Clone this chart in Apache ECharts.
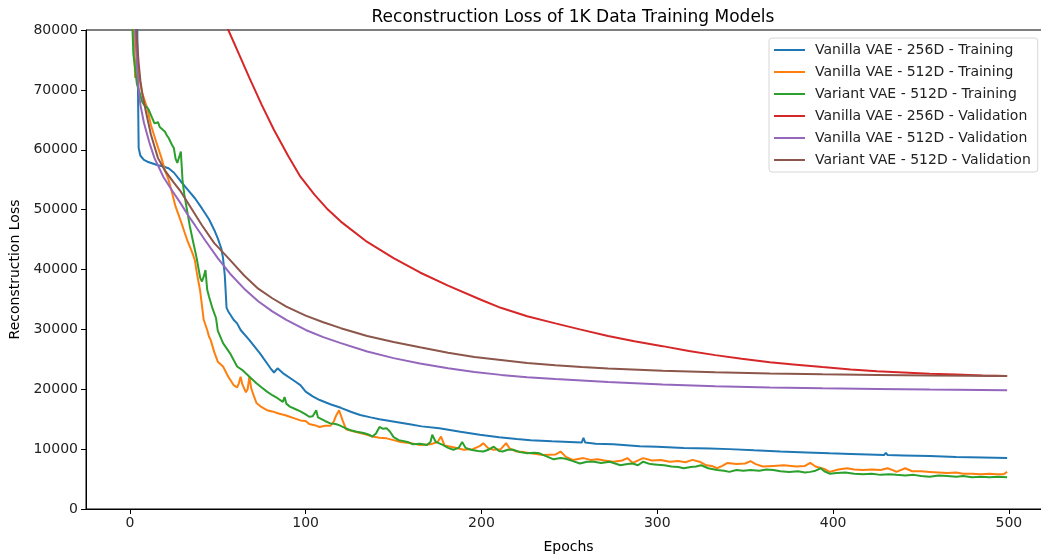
<!DOCTYPE html>
<html>
<head>
<meta charset="utf-8">
<title>Reconstruction Loss</title>
<script src="https://cdn.jsdelivr.net/npm/echarts@6.0.0/dist/echarts.min.js"></script>
<style>
  html, body { margin: 0; padding: 0; background: #fff; }
  #main { width: 1041px; height: 556px; }
</style>
</head>
<body>
<div id="main"></div>
<script>
// values (epoch, loss)
const vanilla256TrainEpochs = [0, 2, 4, 5, 6, 8, 10, 13, 16, 19, 22, 25, 29, 33, 37, 41, 45, 48, 50, 52, 53, 54, 55, 56, 59, 61, 63, 68, 74, 80, 82, 84, 87, 93, 97, 100, 104, 108, 114, 120, 126, 131, 137, 142, 148, 154, 160, 166, 176, 188, 199, 210, 220, 228, 240, 250, 257, 258, 259, 265, 275, 290, 300, 315, 330, 341, 355, 370, 385, 398, 410, 420, 429, 430, 431, 440, 455, 470, 485, 499];
const vanilla256TrainLoss = [110000, 95000, 86000, 60300, 59000, 58300, 58000, 57700, 57400, 57200, 56900, 56200, 54700, 53300, 51900, 50200, 48400, 46600, 45200, 43500, 41900, 39000, 33600, 33000, 31600, 31000, 29900, 28200, 26000, 23500, 22800, 23500, 22700, 21500, 20700, 19600, 18800, 18200, 17500, 16900, 16200, 15700, 15300, 15000, 14700, 14400, 14100, 13800, 13500, 12900, 12400, 12000, 11700, 11500, 11300, 11200, 11100, 11900, 11100, 10900, 10800, 10500, 10400, 10200, 10100, 10000, 9800, 9600, 9450, 9300, 9200, 9100, 9000, 9400, 9000, 8950, 8850, 8700, 8600, 8500];

const vanilla512TrainEpochs = [0, 1, 2, 3, 4, 5, 7, 10, 12, 15, 18, 20, 22, 24, 26, 28, 30, 31, 33, 35, 36, 37, 38, 39, 40, 41, 42, 44, 45, 46, 48, 50, 53, 56, 59, 61, 62, 63, 64, 66, 67, 68, 69, 70, 72, 75, 78, 81, 85, 88, 91, 94, 97, 100, 102, 105, 108, 111, 114, 116, 117, 119, 121, 123, 127, 131, 135, 138, 142, 146, 150, 154, 160, 165, 171, 175, 177, 179, 184, 190, 195, 199, 201, 204, 207, 211, 214, 216, 220, 224, 228, 235, 242, 245, 248, 252, 258, 262, 266, 270, 275, 280, 283, 286, 292, 297, 302, 307, 312, 316, 320, 324, 328, 331, 334, 337, 340, 345, 350, 353, 356, 360, 366, 372, 379, 384, 387, 390, 395, 398, 403, 408, 412, 417, 422, 427, 431, 434, 436, 441, 445, 450, 455, 460, 465, 470, 474, 479, 484, 489, 493, 497, 499];
const vanilla512TrainLoss = [105000, 92000, 82000, 72000, 75500, 72500, 69500, 66800, 64100, 61300, 58600, 56500, 55000, 52800, 50500, 48900, 47200, 46300, 44600, 43200, 42400, 41500, 39600, 38000, 36400, 34000, 31600, 29900, 28800, 28200, 26200, 24600, 23800, 22100, 20700, 20300, 21000, 22100, 20800, 19500, 20000, 22100, 20200, 19300, 17700, 17000, 16500, 16300, 15900, 15700, 15400, 15100, 14800, 14700, 14200, 14000, 13700, 13900, 13900, 14600, 15400, 16500, 14800, 13300, 13000, 12700, 12400, 12100, 11900, 11800, 11500, 11200, 11000, 10700, 10800, 11200, 12100, 10600, 10300, 9900, 10000, 10500, 11000, 10100, 9900, 10000, 11000, 10100, 9600, 9500, 9300, 9000, 9100, 9600, 8700, 8200, 8500, 8200, 8300, 8100, 7900, 8100, 8500, 7700, 8500, 8100, 8200, 7900, 8000, 7800, 8200, 7900, 7300, 7200, 6800, 7200, 7700, 7500, 7600, 8000, 7500, 7100, 7200, 7300, 7100, 7200, 7700, 7100, 6700, 6200, 6600, 6800, 6600, 6500, 6600, 6500, 6800, 6500, 6200, 6800, 6300, 6300, 6200, 6100, 6000, 6100, 5900, 5900, 5800, 5900, 5800, 5800, 6200];

const variant512TrainEpochs = [0, 1, 2, 4, 6, 7, 8, 10, 11, 12, 14, 16, 17, 18, 20, 21, 22, 24, 25, 26, 27, 28, 29, 30, 31, 32, 34, 36, 38, 40, 41, 42, 43, 44, 45, 47, 49, 50, 53, 57, 61, 64, 68, 72, 75, 78, 81, 84, 87, 88, 89, 91, 94, 97, 100, 102, 104, 106, 107, 108, 111, 114, 117, 119, 122, 125, 129, 133, 136, 138, 140, 142, 144, 146, 148, 150, 153, 158, 161, 165, 169, 171, 172, 174, 178, 181, 184, 187, 189, 191, 194, 198, 201, 204, 207, 210, 212, 215, 218, 222, 226, 230, 233, 237, 241, 245, 248, 252, 256, 260, 264, 268, 273, 276, 279, 283, 286, 289, 292, 296, 300, 304, 308, 312, 315, 319, 322, 325, 329, 334, 338, 341, 345, 349, 353, 358, 362, 366, 370, 375, 380, 384, 387, 390, 393, 395, 398, 402, 407, 412, 417, 422, 427, 432, 436, 441, 446, 450, 455, 460, 465, 470, 474, 479, 484, 489, 494, 499];
const variant512TrainLoss = [100000, 84000, 76000, 71000, 69100, 68000, 67500, 67000, 66500, 65800, 64400, 64600, 63800, 63600, 63000, 62400, 62000, 60800, 60300, 58500, 57800, 58000, 59700, 54700, 52500, 50800, 47400, 44600, 41900, 38600, 38000, 38800, 39900, 36600, 35500, 33500, 31900, 29800, 27700, 26000, 23800, 23200, 22100, 21000, 20300, 19600, 19000, 18500, 17900, 18700, 17600, 17100, 16700, 16300, 15800, 15400, 15500, 16500, 15300, 15100, 14700, 14300, 14200, 14000, 13600, 13200, 12900, 12700, 12400, 12100, 12600, 13700, 13400, 13500, 12900, 12000, 11500, 11200, 10800, 10900, 10700, 11200, 12400, 11200, 10700, 10200, 9900, 10200, 11200, 10200, 9900, 9700, 9600, 9900, 10400, 9700, 9600, 9900, 9900, 9500, 9300, 9400, 9300, 8800, 8300, 8500, 8400, 8000, 7600, 7900, 7900, 7700, 7900, 7600, 7300, 7500, 7600, 7300, 7900, 7500, 7400, 7300, 7100, 7000, 6800, 7000, 7100, 7300, 6800, 6500, 6400, 6200, 6500, 6400, 6500, 6400, 6600, 6500, 6300, 6200, 6300, 6100, 6200, 6400, 6800, 6300, 5900, 6000, 6100, 5900, 5800, 5900, 5700, 5800, 5700, 5600, 5700, 5500, 5400, 5600, 5500, 5400, 5500, 5300, 5400, 5300, 5400, 5300];

const vanilla256ValEpochs = [0, 10, 20, 30, 40, 50, 56, 62, 68, 75, 82, 90, 97, 105, 112, 120, 135, 150, 165, 181, 200, 211, 226, 242, 256, 272, 287, 303, 318, 333, 348, 364, 379, 394, 410, 425, 440, 455, 470, 485, 499];
const vanilla256ValLoss = [140000, 125000, 112000, 101000, 92000, 84200, 80000, 76000, 72000, 67500, 63300, 59000, 55500, 52500, 50200, 48000, 44600, 41900, 39500, 37300, 34900, 33600, 32200, 31000, 30000, 28900, 28000, 27200, 26400, 25700, 25100, 24500, 24100, 23700, 23300, 23000, 22800, 22600, 22450, 22300, 22200];

const vanilla512ValEpochs = [0, 1, 2, 3, 4, 5, 6, 8, 11, 14, 19, 24, 29, 33, 37, 43, 50, 57, 65, 73, 81, 89, 100, 110, 120, 135, 150, 165, 181, 196, 211, 226, 242, 257, 272, 303, 333, 364, 394, 425, 455, 499];
const vanilla512ValLoss = [100000, 92000, 86000, 80000, 74500, 70000, 67500, 64500, 61300, 58600, 55500, 53200, 51000, 49100, 47400, 44800, 41900, 39300, 36800, 34700, 33000, 31600, 29900, 28700, 27700, 26300, 25200, 24300, 23500, 22900, 22400, 22000, 21700, 21450, 21200, 20800, 20500, 20300, 20150, 20050, 19950, 19850];

const variant512ValEpochs = [0, 1, 2, 3, 4, 5, 6, 7, 9, 12, 16, 20, 25, 29, 35, 41, 48, 56, 65, 73, 81, 89, 100, 110, 120, 135, 150, 165, 181, 196, 211, 226, 242, 257, 272, 303, 333, 364, 394, 425, 455, 499];
const variant512ValLoss = [110000, 98000, 90000, 84000, 78500, 74500, 71500, 69500, 66500, 62500, 58600, 56500, 54500, 53000, 50200, 47400, 44400, 41900, 39000, 36800, 35200, 33800, 32300, 31200, 30200, 28900, 27900, 27000, 26100, 25400, 24900, 24400, 24000, 23700, 23450, 23100, 22850, 22650, 22500, 22400, 22300, 22200];

const seriesNames = [
  "Vanilla VAE - 256D - Training",
  "Vanilla VAE - 512D - Training",
  "Variant VAE - 512D - Training",
  "Vanilla VAE - 256D - Validation",
  "Vanilla VAE - 512D - Validation",
  "Variant VAE - 512D - Validation"
];
const xTicks = [0, 100, 200, 300, 400, 500];

const colors = ["#1f77b4", "#ff7f0e", "#2ca02c", "#d62728", "#9467bd", "#8c564b"];
const font = "DejaVu Sans";

function pairs(xs, ys) {
  return xs.map((x, i) => [x, ys[i]]);
}

const curves = [
  pairs(vanilla256TrainEpochs, vanilla256TrainLoss),
  pairs(vanilla512TrainEpochs, vanilla512TrainLoss),
  pairs(variant512TrainEpochs, variant512TrainLoss),
  pairs(vanilla256ValEpochs, vanilla256ValLoss),
  pairs(vanilla512ValEpochs, vanilla512ValLoss),
  pairs(variant512ValEpochs, variant512ValLoss)
];

let chart = echarts.init(document.getElementById("main"), null, { renderer: "canvas" });
chart.setOption({
  animation: false,
  color: colors,
  textStyle: { fontFamily: font },
  title: {
    text: "Reconstruction Loss of 1K Data Training Models",
    left: 568,
    textAlign: "center",
    top: 4,
    textStyle: { fontFamily: font, fontSize: 17, fontWeight: "normal", color: "#000" }
  },
  grid: {
    left: 86,
    top: 30,
    width: 965,
    height: 479,
    outerBoundsMode: "none",
    containLabel: false,
    show: true,
    borderColor: "#000",
    borderWidth: 1,
    backgroundColor: "transparent"
  },
  legend: {
    orient: "vertical",
    left: 769,
    top: 38,
    icon: "rect",
    itemWidth: 31,
    itemHeight: 2,
    itemGap: 8,
    padding: [5, 7, 5, 5],
    backgroundColor: "#fff",
    borderColor: "#d6d6d6",
    borderWidth: 1,
    borderRadius: 3,
    textStyle: { fontFamily: font, fontSize: 14, color: "#222", padding: [0, 0, 0, 5] },
    data: seriesNames
  },
  xAxis: {
    type: "value",
    min: -24.95,
    max: 523.95,
    name: "Epochs",
    nameLocation: "middle",
    nameGap: 31,
    nameTextStyle: { fontFamily: font, fontSize: 14, color: "#000" },
    axisLine: { onZero: false, lineStyle: { color: "#000", width: 1 } },
    axisTick: { show: true, length: 5, customValues: xTicks, lineStyle: { color: "#000" } },
    axisLabel: { customValues: xTicks, margin: 7, fontFamily: font, fontSize: 14, color: "#222" },
    splitLine: { show: false }
  },
  yAxis: {
    type: "value",
    min: 0,
    max: 80000,
    interval: 10000,
    name: "Reconstruction Loss",
    nameLocation: "middle",
    nameGap: 56,
    nameTextStyle: { fontFamily: font, fontSize: 14, color: "#000" },
    axisLine: { show: true, onZero: false, lineStyle: { color: "#000", width: 1 } },
    axisTick: { show: true, length: 5, lineStyle: { color: "#000" } },
    axisLabel: { margin: 8, fontFamily: font, fontSize: 14, color: "#222", formatter: (v) => String(v) },
    splitLine: { show: false }
  },
  series: seriesNames.map((name, i) => ({
    name: name,
    type: "line",
    data: curves[i],
    showSymbol: false,
    symbol: "none",
    clip: true,
    lineStyle: { width: 2, color: colors[i] },
    itemStyle: { color: colors[i] }
  }))
});
</script>
</body>
</html>
